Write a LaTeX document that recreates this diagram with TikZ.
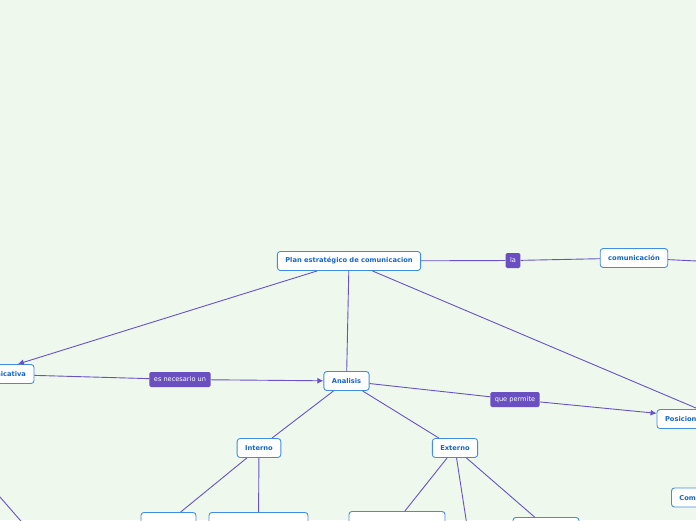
\documentclass[tikz,border=0pt]{standalone}
\usepackage{fontspec}
\setsansfont{DejaVu Sans}
\usetikzlibrary{arrows.meta}
\definecolor{bgcol}{HTML}{EFF8EC}
\definecolor{edgecol}{HTML}{6753C6}
\definecolor{labcol}{HTML}{6A4FC0}
\definecolor{boxcol}{HTML}{3F8EE2}
\definecolor{txtcol}{HTML}{1566C8}

\begin{document}
\begin{tikzpicture}[x=1pt,y=-1pt]
    \fill[bgcol] (0,0) rectangle (696,520);
    \useasboundingbox (0,0) rectangle (696,520);
    \clip (0,0) rectangle (696,520);

    \tikzstyle{topic}=[draw=boxcol,line width=0.9pt,fill=white,rounded corners=3pt,text=txtcol,font=\sffamily\bfseries\fontsize{6.7}{8}\selectfont,inner xsep=8pt,minimum height=19pt]
    \tikzstyle{link}=[fill=labcol,rounded corners=1.5pt,text=white,font=\sffamily\fontsize{6.6}{8}\selectfont,inner xsep=4.5pt,minimum height=15pt]

    \node[topic]  (plan) at (349,261) {Plan estratégico de comunicacion};
    \node[link]   (la) at (513,260.5) {la};
    \node[topic]  (comu) at (634,258) {comunicación};
    \coordinate   (comuR) at (760,264);

    \node[topic,text width=80pt,align=right]  (accion) at (-14,374) {Comunicativa};
    \node[link]   (necesario) at (180,379.5) {es necesario un};
    \node[topic]  (analisis) at (346.5,381) {Analisis};
    \node[link]   (permite) at (515,399.5) {que permite};
    \node[topic,text width=100pt,align=left]  (posicion) at (715,419) {Posicionamiento};
    \coordinate   (planR) at (780,443.6);

    \node[topic]  (interno) at (259,448) {Interno};
    \node[topic]  (externo) at (455,448) {Externo};

    \node[topic,minimum width=55pt,anchor=north]  (intA) at (168.5,512) {};
    \node[topic,minimum width=99pt,anchor=north]  (intB) at (258.5,512) {};
    \node[topic,minimum width=96pt,anchor=north]  (extA) at (397,511) {};
    \coordinate   (extB) at (470,545);
    \node[topic,minimum width=66pt,anchor=north]  (extC) at (546,517) {};
    \node[topic,anchor=west]  (com) at (671,497.5) {Comunicación};

    \coordinate   (leftA) at (-40,451);
    \coordinate   (leftB) at (40,543);

    \tikzstyle{fwd} = [draw=edgecol, line width=0.9pt, -{Latex[length=6pt,width=6pt]}]
    \tikzstyle{con} = [draw=edgecol, line width=0.9pt]

          \draw [con] (plan) -- (la);
          \draw [con] (la) -- (comu);
          \draw [con] (comu) -- (comuR);
          \draw [fwd] (plan) -- (accion);
          \draw [con] (plan) -- (analisis);
          \draw [con] (plan) -- (planR);
          \draw [con] (accion) -- (necesario);
          \draw [fwd] (necesario) -- (analisis);
          \draw [con] (analisis) -- (permite);
          \draw [fwd] (permite) -- (posicion);
          \draw [con] (analisis) -- (interno);
          \draw [con] (analisis) -- (externo);
          \draw [con] (interno) -- (intA);
          \draw [con] (interno) -- (intB);
          \draw [con] (externo) -- (extA);
          \draw [con] (externo) -- (extB);
          \draw [con] (externo) -- (extC);
          \draw [con] (leftA) -- (leftB);

  \end{tikzpicture}
\end{document}
